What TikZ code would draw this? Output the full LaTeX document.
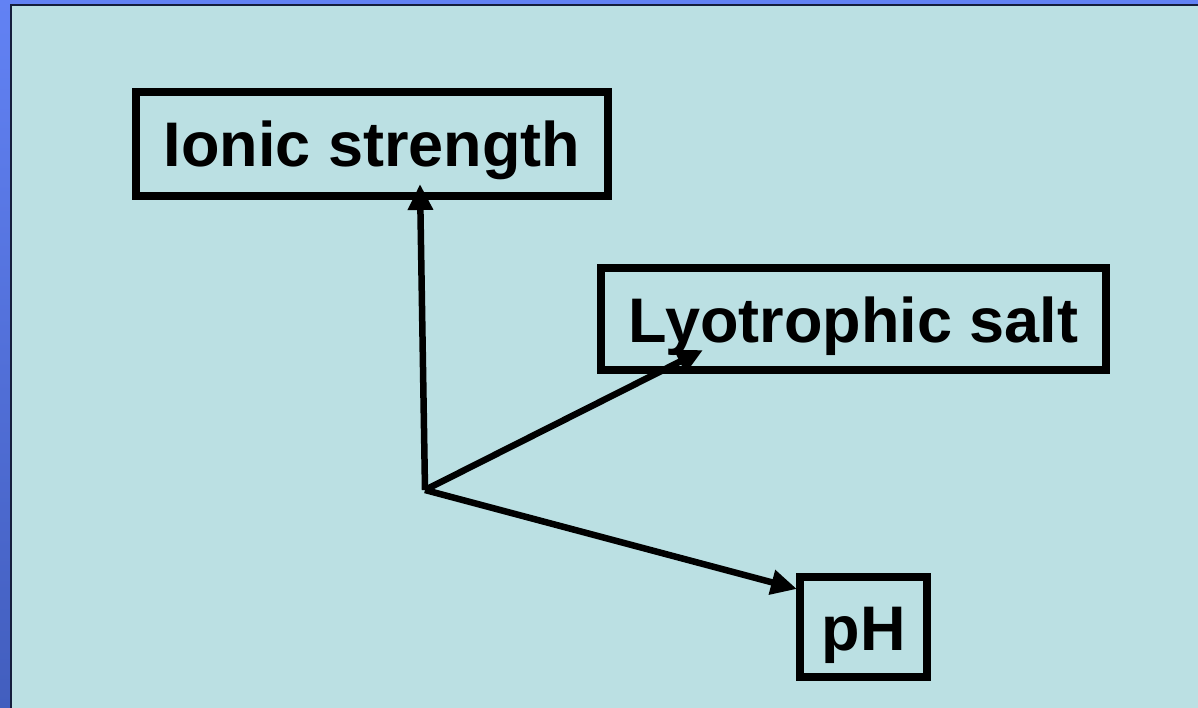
\documentclass[tikz,border=0pt]{standalone}
\usepackage{fontspec}
\setmainfont{Liberation Sans}
\usetikzlibrary{arrows.meta}
\definecolor{bgtop}{RGB}{98,130,244}
\definecolor{bgbot}{RGB}{66,94,190}
\definecolor{panel}{RGB}{187,224,227}
\definecolor{edge}{RGB}{20,30,60}
\tikzset{
  labelbox/.style={draw=black, line width=8pt, inner sep=0pt, text height=59pt, text depth=13pt, font=\fontsize{63}{70}\selectfont\bfseries},
  conn/.style={line width=6.5pt, -{Triangle[length=26pt,width=24pt]}},
}
\begin{document}
\begin{tikzpicture}[x=1pt,y=-1pt]
\useasboundingbox (0,0) rectangle (1198,708);
\shade[top color=bgtop, bottom color=bgbot] (0,0) rectangle (1198,708);
\fill[panel] (11,5) rectangle (1198,708);
\draw[edge, line width=2.5pt] (11,708) -- (11,5) -- (1198,5);
\node[labelbox, minimum width=472pt, minimum height=104pt] (ionic) at (372,144) {Ionic strength};
\node[labelbox, minimum width=505pt, minimum height=102pt] (lyo) at (853.5,319) {Lyotrophic salt};
\node[labelbox, minimum width=127pt, minimum height=100pt] (ph) at (863.5,627) {pH};
\coordinate (o) at (425,490);
\coordinate (t1) at (420,184);
\coordinate (t2) at (703,350);
\coordinate (t3) at (797,589);
\draw[conn] (o) -- (t1);
\draw[conn] (o) -- (t2);
\draw[conn] (o) -- (t3);
\end{tikzpicture}
\end{document}
